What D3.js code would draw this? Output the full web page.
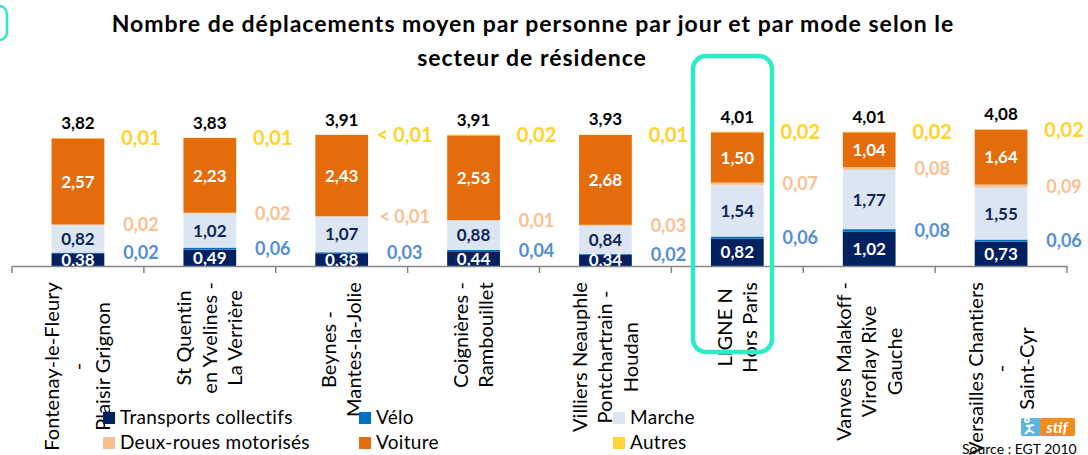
<!DOCTYPE html>
<html>
<head>
<meta charset="utf-8">
<script src="https://cdn.jsdelivr.net/npm/d3@7"></script>
<style>
  body { margin: 0; background: #fff; }
  svg { display: block; font-family: Lato, "Open Sans", sans-serif; }
</style>
</head>
<body>
<div id="chart-area"></div>
<script>
// categories (secteurs) and their label lines
var secteurs = ["Fontenay", "StQuentin", "Beynes", "Coignieres", "Villiers", "LigneN", "Vanves", "Versailles"];
var secteurLines = [
  ["Fontenay-le-Fleury", "-", "Plaisir Grignon"],
  ["St Quentin", "en Yvelines -", "La Verrière"],
  ["Beynes -", "Mantes-la-Jolie"],
  ["Coignières -", "Rambouillet"],
  ["Villiers Neauphle", "Pontchartrain -", "Houdan"],
  ["LIGNE N", "Hors Paris"],
  ["Vanves Malakoff -", "Viroflay Rive", "Gauche"],
  ["Versailles Chantiers", "-", "Saint-Cyr"]
];

// series values (trips per person per day), bottom to top of the stack
var transportsCollectifs = [0.38, 0.49, 0.38, 0.44, 0.34, 0.82, 1.02, 0.73];
var velo                 = [0.02, 0.06, 0.03, 0.04, 0.02, 0.06, 0.08, 0.06];
var marche               = [0.82, 1.02, 1.07, 0.88, 0.84, 1.54, 1.77, 1.55];
var deuxRoues            = [0.02, 0.02, 0.004, 0.01, 0.03, 0.07, 0.08, 0.09];
var voiture              = [2.57, 2.23, 2.43, 2.53, 2.68, 1.50, 1.04, 1.64];
var autres               = [0.01, 0.01, 0.004, 0.02, 0.01, 0.02, 0.02, 0.02];
var totals               = [3.82, 3.83, 3.91, 3.91, 3.93, 4.01, 4.01, 4.08];

var series = [
  {key: "tc", name: "Transports collectifs", values: transportsCollectifs, color: "#002060", label: "in", text: "#fff", size: 17},
  {key: "velo", name: "Vélo", values: velo, color: "#0070C0", label: "side", text: "#558ED5", size: 18},
  {key: "marche", name: "Marche", values: marche, color: "#DCE6F2", label: "in", text: "#0F2557", size: 17},
  {key: "2rm", name: "Deux-roues motorisés", values: deuxRoues, color: "#FAC090", label: "side", text: "#FAC090", size: 18},
  {key: "voiture", name: "Voiture", values: voiture, color: "#E46C0A", label: "in", text: "#fff", size: 17},
  {key: "autres", name: "Autres", values: autres, color: "#FFD43B", label: "side", text: "#FFD32A", size: 20}
];
var legendOrder = ["tc", "velo", "marche", "2rm", "voiture", "autres"];

var W = 1088, H = 455;
var fmt = function(v) {
  if (v < 0.01) return "< 0,01";
  return d3.format(".2f")(v).replace(".", ",");
};

var svg = d3.select("#chart-area").append("svg")
  .attr("width", W).attr("height", H);

var x = d3.scaleBand()
  .domain(secteurs)
  .range([12, 1067])
  .paddingInner(0.6)
  .paddingOuter(0.3);

var y = d3.scaleLinear()
  .domain([0, 4.5])
  .range([266, 115.25]);

// stack
var rows = secteurs.map(function(s, i) {
  var r = {secteur: s};
  series.forEach(function(se) { r[se.key] = se.values[i]; });
  return r;
});
var stacked = d3.stack().keys(series.map(function(s) { return s.key; }))(rows);

svg.append("clipPath").attr("id", "plot")
  .append("rect").attr("x", 0).attr("y", 0).attr("width", W).attr("height", 266);

// title
var title = svg.append("text")
  .attr("text-anchor", "middle")
  .attr("font-weight", "bold")
  .attr("font-size", 23)
  .attr("letter-spacing", 1)
  .attr("fill", "#000");
title.append("tspan").attr("x", 533).attr("y", 32)
  .text("Nombre de déplacements moyen par personne par jour et par mode selon le");
title.append("tspan").attr("x", 532).attr("y", 66).text("secteur de résidence");

// bars
var layers = svg.append("g").selectAll("g")
  .data(stacked)
  .enter().append("g")
  .attr("fill", function(d, i) { return series[i].color; });

layers.selectAll("rect")
  .data(function(d) { return d; })
  .enter().append("rect")
  .attr("x", function(d) { return x(d.data.secteur); })
  .attr("width", x.bandwidth())
  .attr("y", function(d) { return y(d[1]); })
  .attr("height", function(d) { return y(d[0]) - y(d[1]); });

// value labels
var labels = svg.append("g").attr("clip-path", "url(#plot)")
  .attr("font-weight", "bold");
stacked.forEach(function(layer, i) {
  var se = series[i];
  labels.selectAll("text.l" + se.key)
    .data(layer)
    .enter().append("text")
    .attr("class", "l" + se.key)
    .attr("text-anchor", "middle")
    .attr("dy", "0.36em")
    .attr("font-size", se.size)
    .attr("fill", se.text)
    .attr("x", function(d) {
      var cx = x(d.data.secteur) + x.bandwidth() / 2;
      return se.label == "in" ? cx : cx + 63;
    })
    .attr("y", function(d) { return y((d[0] + d[1]) / 2); })
    .text(function(d, j) { return fmt(se.values[j]); });
});

// totals
svg.append("g").selectAll("text")
  .data(secteurs)
  .enter().append("text")
  .attr("text-anchor", "middle")
  .attr("font-weight", "bold")
  .attr("font-size", 17)
  .attr("x", function(d) { return x(d) + x.bandwidth() / 2; })
  .attr("y", function(d, i) { return y(totals[i]) - 9; })
  .text(function(d, i) { return fmt(totals[i]); });

// axis
var xAxis = d3.axisBottom(x).tickSize(0).tickFormat("");
var axisG = svg.append("g")
  .attr("class", "axis xAxis")
  .attr("transform", "translate(0,266)")
  .call(xAxis);
axisG.select(".domain").attr("stroke", "#868686").attr("stroke-width", 1.5);
var bounds = secteurs.map(function(s) { return x(s) - x.step() * x.paddingInner() / 2; });
bounds.push(x.range()[1]);
axisG.selectAll("line.bound")
  .data(bounds)
  .enter().append("line")
  .attr("class", "bound")
  .attr("x1", function(d) { return d; }).attr("x2", function(d) { return d; })
  .attr("y1", 0).attr("y2", 7)
  .attr("stroke", "#868686").attr("stroke-width", 1.5);

// category labels (rotated, block top-aligned, lines centred)
var catG = svg.append("g").attr("font-size", 20).attr("letter-spacing", 0.1).attr("fill", "#000");
secteurs.forEach(function(s, i) {
  var lines = secteurLines[i];
  var cx = x(s) + x.bandwidth() / 2;
  var texts = lines.map(function(t) {
    return catG.append("text").attr("text-anchor", "middle").attr("dy", "0.35em").text(t);
  });
  var maxW = d3.max(texts, function(t) { return t.node().getComputedTextLength(); });
  var yc = 282 + maxW / 2;
  texts.forEach(function(t, j) {
    var off = (j - (lines.length - 1) / 2) * 25.5;
    t.attr("transform", "translate(" + (cx + off) + "," + yc + ") rotate(-90)");
  });
});

// legend
var legendPos = {
  tc: [103, 424], velo: [359, 424], marche: [613, 424],
  "2rm": [103, 449], voiture: [359, 449], autres: [613, 449]
};
var legG = svg.append("g").attr("font-size", 19).attr("letter-spacing", 0.3);
legendOrder.forEach(function(k) {
  var se = series.filter(function(s) { return s.key == k; })[0];
  var p = legendPos[k];
  legG.append("rect").attr("x", p[0]).attr("y", p[1] - 12)
    .attr("width", 12).attr("height", 12).attr("fill", se.color);
  legG.append("text").attr("x", p[0] + 17).attr("y", p[1])
    .attr("fill", "#000").text(se.name);
});

// source + logo
svg.append("text").attr("x", 962).attr("y", 454).attr("font-size", 14)
  .attr("fill", "#000").text("Source : EGT 2010");
var logo = svg.append("g").attr("transform", "translate(1021,418)");
logo.append("rect").attr("width", 20).attr("height", 18).attr("rx", 2).attr("fill", "#5DB4E5");
logo.append("rect").attr("x", 19).attr("width", 35).attr("height", 18).attr("rx", 2).attr("fill", "#F28C1E");
logo.append("text").attr("x", 36).attr("y", 14.5).attr("text-anchor", "middle")
  .attr("font-size", 16).attr("font-weight", "bold").attr("font-style", "italic")
  .attr("fill", "#fff").text("stif");
logo.append("path").attr("d", "M6,4 a2,2 0 1,1 0.1,0 M5,8 L13,7 M9,7 L8,12 L4,16 M8,12 L13,15")
  .attr("stroke", "#fff").attr("stroke-width", 2).attr("fill", "none");

// highlight boxes
svg.append("rect").attr("x", 693).attr("y", 56).attr("width", 79).attr("height", 296)
  .attr("rx", 13).attr("fill", "none").attr("stroke", "#2DEBC6").attr("stroke-width", 4.5);
svg.append("rect").attr("x", -30).attr("y", 6).attr("width", 37).attr("height", 34)
  .attr("rx", 8).attr("fill", "none").attr("stroke", "#2DEBC6").attr("stroke-width", 2.5);
</script>
</body>
</html>
